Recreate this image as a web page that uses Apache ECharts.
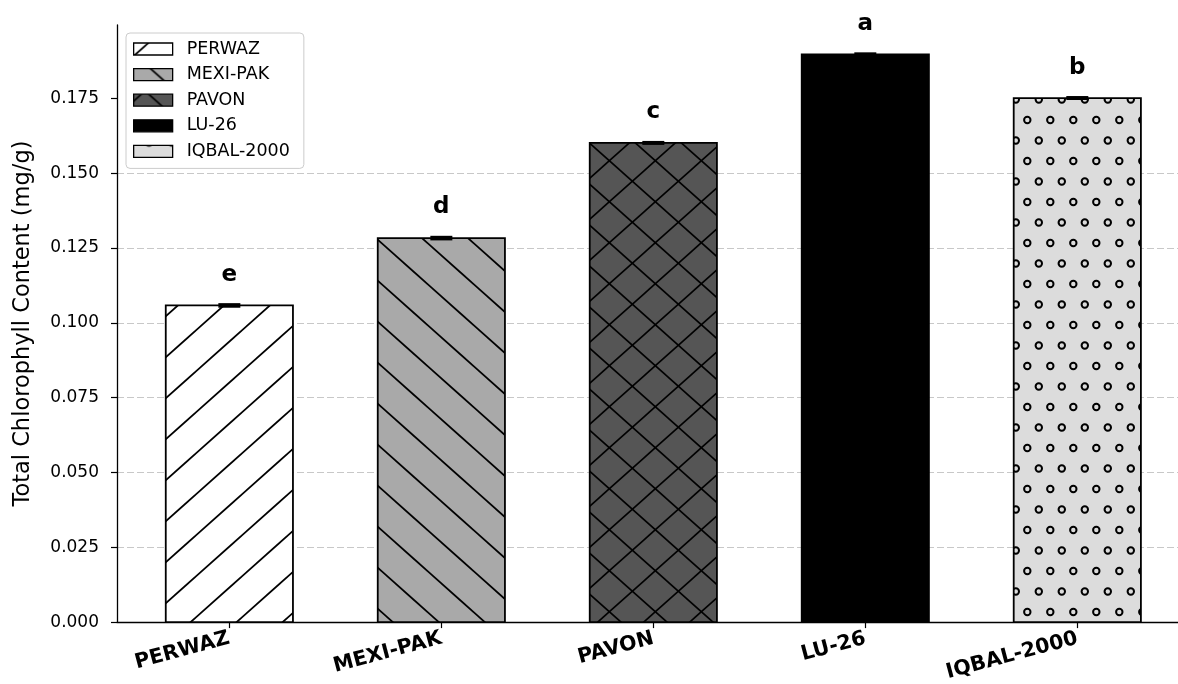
<!DOCTYPE html>
<html>
<head>
<meta charset="utf-8">
<script src="https://cdn.jsdelivr.net/npm/echarts@6/dist/echarts.min.js"></script>
<style>
  html, body { margin: 0; padding: 0; background: #fff; }
  #chart { width: 1178px; height: 684px; }
</style>
</head>
<body>
<div id="chart"></div>
<script>
// chlorophyll per variety
var categories = ['PERWAZ', 'MEXI-PAK', 'PAVON', 'LU-26', 'IQBAL-2000'];
var chlorophyll = [0.1058, 0.1283, 0.1601, 0.1897, 0.1751];
var errors = [0.0004, 0.0004, 0.0003, 0.0003, 0.0003];
var letters = ['e', 'd', 'c', 'a', 'b'];
var yTicks = [0, 0.025, 0.05, 0.075, 0.1, 0.125, 0.15, 0.175];
var xTicks = [0, 1, 2, 3, 4];

var FONT = '"DejaVu Sans", Verdana, sans-serif';

// hatch tiles (46 x 41 px), drawn once on small canvases
function makeHatch(bg, fwd, bwd, circles) {
    var W = 46, H = 41;
    var c = document.createElement('canvas');
    c.width = W; c.height = H;
    var g = c.getContext('2d');
    g.fillStyle = bg;
    g.fillRect(0, 0, W, H);
    g.strokeStyle = '#000';
    g.lineWidth = 1.7;
    var k;
    if (fwd != null) {
        for (k = -2; k <= 3; k++) {
            var y0 = fwd + k * H;
            g.beginPath(); g.moveTo(-W, y0 + H); g.lineTo(2 * W, y0 - 2 * H); g.stroke();
        }
    }
    if (bwd != null) {
        for (k = -3; k <= 2; k++) {
            var y1 = bwd + k * H;
            g.beginPath(); g.moveTo(-W, y1 - H); g.lineTo(2 * W, y1 + 2 * H); g.stroke();
        }
    }
    if (circles) {
        g.lineWidth = 2;
        circles.forEach(function (p) {
            for (var dx = -1; dx <= 1; dx++) {
                for (var dy = -1; dy <= 1; dy++) {
                    g.beginPath();
                    g.arc(p[0] + dx * W, p[1] + dy * H, 3.2, 0, Math.PI * 2);
                    g.stroke();
                }
            }
        });
    }
    return { image: c, repeat: 'repeat' };
}

var fills = [
    makeHatch('#ffffff', 13, null, null),
    makeHatch('#a9a9a9', null, 26, null),
    makeHatch('#555555', 6.8, 27.6, null),
    '#000000',
    makeHatch('#dcdcdc', null, null, [[15.3, 38], [38.3, 38], [3.8, 17.5], [26.8, 17.5]])
];

function makeRender(i) {
    return function (params, api) {
        var x = api.value(0), v = api.value(1), e = api.value(2);
        var base = api.coord([x, 0]);
        var top = api.coord([x, v]);
        var hi = api.coord([x, v + e]);
        var lo = api.coord([x, v - e]);
        var w = api.size([0.6, 0])[0];
        var cap = 11;
        return {
            type: 'group',
            children: [
                {
                    type: 'rect',
                    shape: { x: top[0] - w / 2, y: top[1], width: w, height: base[1] - top[1] },
                    style: { fill: fills[i], stroke: '#000', lineWidth: 1.8 }
                },
                {
                    type: 'line',
                    shape: { x1: hi[0], y1: hi[1], x2: lo[0], y2: lo[1] },
                    style: { stroke: '#000', lineWidth: 1.5 }
                },
                {
                    type: 'line',
                    shape: { x1: hi[0] - cap, y1: hi[1], x2: hi[0] + cap, y2: hi[1] },
                    style: { stroke: '#000', lineWidth: 2.2 }
                },
                {
                    type: 'line',
                    shape: { x1: lo[0] - cap, y1: lo[1], x2: lo[0] + cap, y2: lo[1] },
                    style: { stroke: '#000', lineWidth: 2.2 }
                },
                {
                    type: 'text',
                    x: hi[0],
                    y: hi[1] - 18,
                    style: {
                        text: letters[i],
                        fill: '#000',
                        font: 'bold 23px ' + FONT,
                        align: 'center',
                        verticalAlign: 'bottom'
                    }
                }
            ]
        };
    };
}

var series = categories.map(function (name, i) {
    return {
        name: name,
        type: 'custom',
        renderItem: makeRender(i),
        encode: { x: 0, y: 1 },
        itemStyle: { color: fills[i], borderColor: '#000', borderWidth: 1.3 },
        data: [[i, chlorophyll[i], errors[i]]]
    };
});

var myChart = echarts.init(document.getElementById('chart'));

var option = {
    animation: false,
    backgroundColor: '#fff',
    grid: { left: 117, right: 0, top: 25, bottom: 58, containLabel: false },
    legend: {
        orient: 'vertical',
        left: 126,
        top: 33,
        itemWidth: 39,
        itemHeight: 12,
        itemGap: 5.6,
        padding: [6, 14, 7, 7],
        borderColor: '#cccccc',
        borderWidth: 1,
        borderRadius: 4,
        backgroundColor: 'rgba(255,255,255,0.8)',
        textStyle: { fontFamily: FONT, fontSize: 17.5, color: '#000', lineHeight: 20, padding: [0, 0, 0, 9] },
        data: categories.map(function (name, i) {
            return {
                name: name,
                icon: 'rect',
                itemStyle: { color: fills[i], borderColor: '#000', borderWidth: 1.3 }
            };
        })
    },
    xAxis: {
        type: 'value',
        min: -0.53,
        max: 4.475,
        axisLine: { show: true, onZero: false, lineStyle: { color: '#000', width: 1.3 } },
        axisTick: { show: true, customValues: xTicks, length: 6, lineStyle: { color: '#000', width: 1.2 } },
        axisLabel: {
            customValues: xTicks,
            formatter: function (v) { return categories[Math.round(v)]; },
            rotate: 15,
            margin: 16,
            color: '#000',
            fontFamily: FONT,
            fontWeight: 'bold',
            fontSize: 20.5
        },
        splitLine: { show: false }
    },
    yAxis: {
        type: 'value',
        min: 0,
        max: 0.1995,
        interval: 0.025,
        name: 'Total Chlorophyll Content (mg/g)',
        nameLocation: 'middle',
        nameGap: 82,
        nameTextStyle: { fontFamily: FONT, fontSize: 22.5, color: '#000' },
        axisLine: { show: true, onZero: false, lineStyle: { color: '#000', width: 1.3 } },
        axisTick: { show: true, customValues: yTicks, length: 6, lineStyle: { color: '#000', width: 1.2 } },
        axisLabel: {
            customValues: yTicks,
            formatter: function (v) { return v.toFixed(3); },
            margin: 18,
            color: '#000',
            fontFamily: FONT,
            fontSize: 17
        },
        splitLine: {
            show: true,
            showMinLine: false,
            showMaxLine: false,
            lineStyle: { color: '#c8c8c8', width: 1, type: [7, 3] }
        }
    },
    series: series
};

myChart.setOption(option);
</script>
</body>
</html>
